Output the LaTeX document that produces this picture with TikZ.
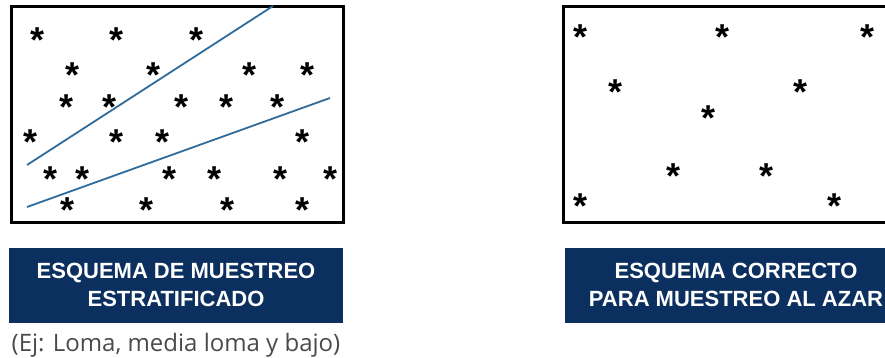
\documentclass[tikz,border=0pt]{standalone}
\usepackage{fontspec}
\setmainfont{Liberation Sans}
\newfontfamily\subfont{Open Sans}
\definecolor{navy}{HTML}{0B2F5E}
\definecolor{stratline}{HTML}{2F6C9B}
\definecolor{subgray}{HTML}{4A4A4A}
\newcommand{\astmark}{\raisebox{-0.5em}[0.14em][0.14em]{*}}
\begin{document}
\begin{tikzpicture}[x=1pt,y=-1pt,
  frame/.style={draw=black,line width=3pt},
  ast/.style={inner sep=0pt,anchor=center,font=\bfseries\fontsize{36}{36}\selectfont},
  stratum/.style={draw=stratline,line width=1.8pt},
  banner/.style={fill=navy,draw=none},
  bannertext/.style={text=white,font=\bfseries\fontsize{22}{27.5}\selectfont,align=center,inner sep=0pt},
  subtext/.style={text=subgray,font=\subfont\fontsize{24}{28}\selectfont,inner sep=0pt}]
\useasboundingbox (0,0) rectangle (885,358);
% left box
\draw[frame] (11,7) rectangle (343,222);
\coordinate (l1a) at (27,165);
\coordinate (l1b) at (273,6);
\coordinate (l2a) at (27,207);
\coordinate (l2b) at (330,98);
\draw[stratum] (l1a) -- (l1b);
\draw[stratum] (l2a) -- (l2b);
\foreach \x/\y [count=\i] in {38/35,117/35,197/35,
  73/70,154/70,250/70,308/70,
  67/102,110/102,182/102,227/102,278/102,
  31/137,117/137,163/137,302/137,
  51/173,83/173,170/173,215/173,280/173,330/173,
  68/204,147/204,228/204,302/204}
  \node[ast] (sl\i) at (\x,\y) {\astmark};
% right box
\draw[frame] (563,7) rectangle (890,222);
\foreach \x/\y [count=\i] in {580/32,722/32,867/32,
  615/87,800/87,708/113,673/171,766/171,580/200,834/200}
  \node[ast] (sr\i) at (\x,\y) {\astmark};
% banners
\fill[banner] (9,248) rectangle (343,323);
\node[bannertext] (t1) at (176,285) {ESQUEMA DE MUESTREO\\ESTRATIFICADO};
\node[subtext] (s1) at (176,345) {(Ej: Loma, media loma y bajo)};
\fill[banner] (565,248) rectangle (890,323);
\node[bannertext] (t2) at (736,285) {ESQUEMA CORRECTO\\PARA MUESTREO AL AZAR};
\end{tikzpicture}
\end{document}
